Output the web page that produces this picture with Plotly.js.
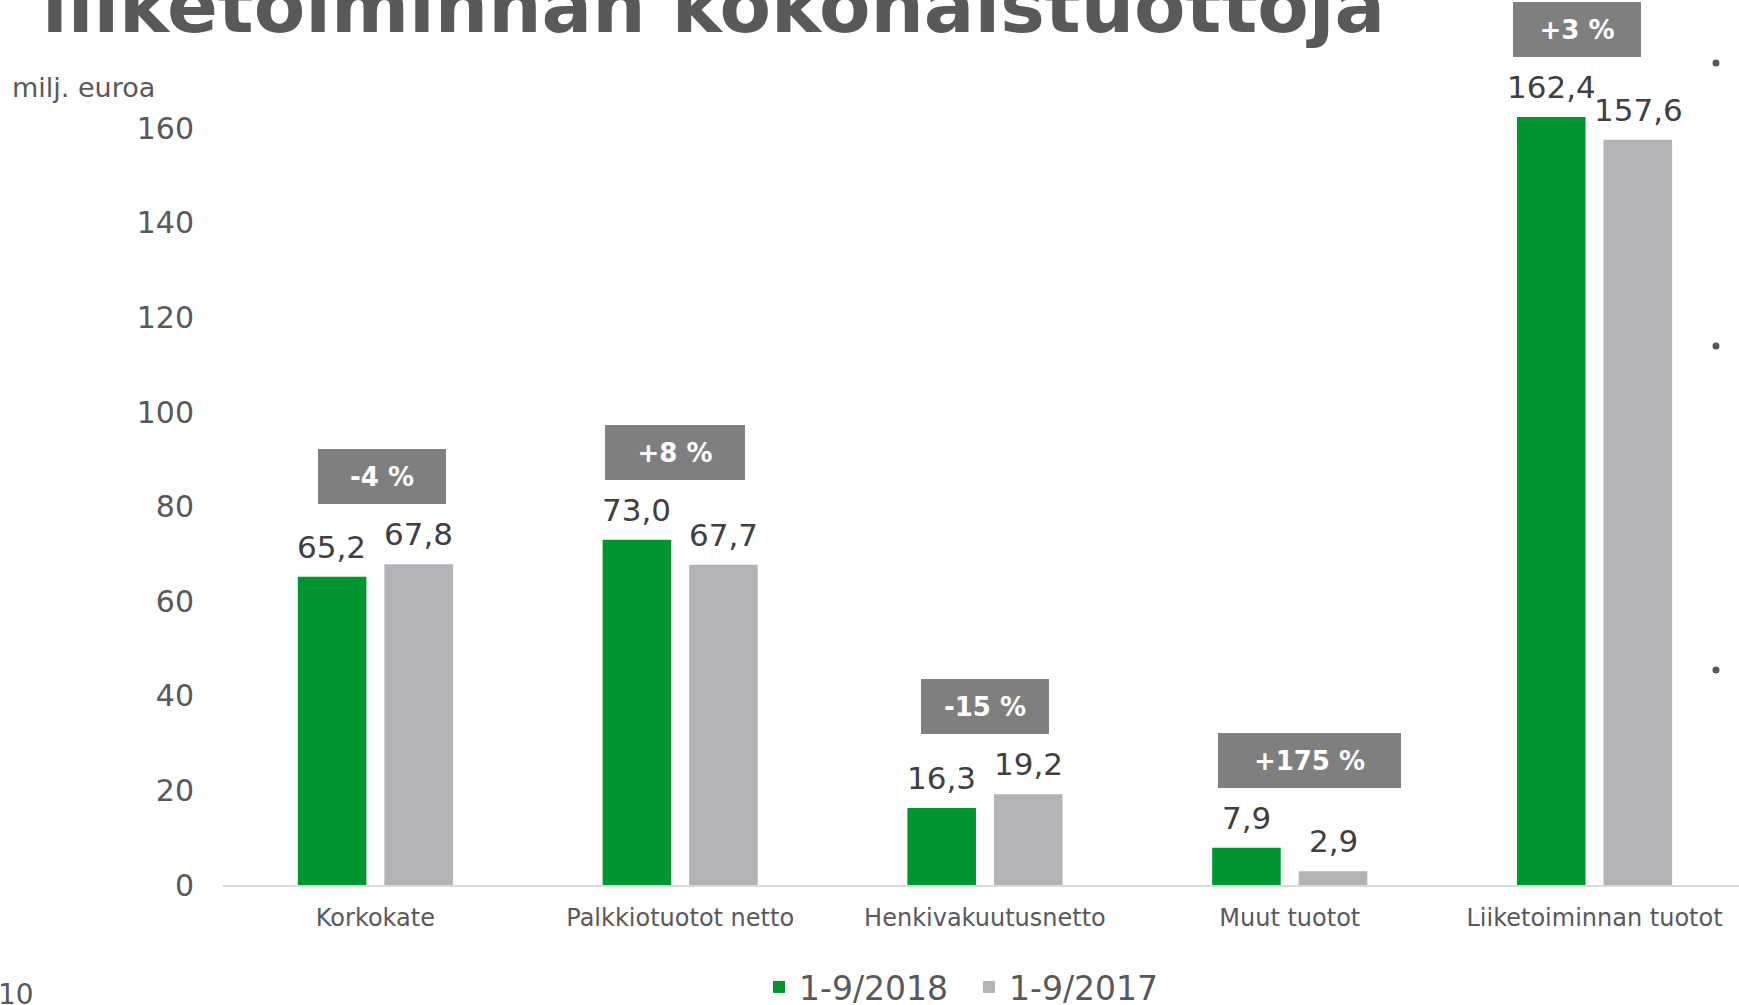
<!DOCTYPE html>
<html>
<head>
<meta charset="utf-8">
<script src="https://cdn.plot.ly/plotly-3.0.1.min.js"></script>
<style>
html,body{margin:0;padding:0;background:#fff;overflow:hidden;}
#chart{width:1739px;height:1005px;}
</style>
</head>
<body>
<div id="chart"></div>
<script>
// ---- data ----
const categories = ["Korkokate", "Palkkiotuotot netto", "Henkivakuutusnetto", "Muut tuotot", "Liiketoiminnan tuotot"];
const series2018 = [65.2, 73.0, 16.3, 7.9, 162.4];
const series2017 = [67.8, 67.7, 19.2, 2.9, 157.6];
const changeLabels = ["-4 %", "+8 %", "-15 %", "+175 %", "+3 %"];
const seriesNames = ["1-9/2018", "1-9/2017"];
const yTicks = [0, 20, 40, 60, 80, 100, 120, 140, 160];

// ---- styles ----
const FONT = "DejaVu Sans, Verdana, sans-serif";
const GREEN = "#009530";
const GREY = "#b1b3b6";
const TXT = "#595959";
const boxWidths = [128, 140, 128, 183, 128];
const boxShifts = [7, -5, 0, 20, -18];

const fmt = v => v.toFixed(1).replace(".", ",");

const traces = [
  {type: "bar", x: categories, y: series2018, name: seriesNames[0],
   marker: {color: GREEN}, hoverinfo: "skip"},
  {type: "bar", x: categories, y: series2017, name: seriesNames[1],
   marker: {color: GREY}, hoverinfo: "skip"}
];

const annotations = [];
categories.forEach((c, i) => {
  annotations.push({x: c, y: series2018[i], xref: "x", yref: "y", text: fmt(series2018[i]),
    showarrow: false, xshift: -43.5, yanchor: "bottom", yshift: 10,
    font: {family: FONT, size: 31, color: "#404040"}});
  annotations.push({x: c, y: series2017[i], xref: "x", yref: "y", text: fmt(series2017[i]),
    showarrow: false, xshift: 43.5, yanchor: "bottom", yshift: 10,
    font: {family: FONT, size: 31, color: "#404040"}});
  const top = Math.max(series2018[i], series2017[i]);
  annotations.push({x: c, y: top, xref: "x", yref: "y", text: "<b>" + changeLabels[i] + "</b>",
    showarrow: false, xshift: boxShifts[i], yanchor: "bottom", yshift: 60,
    width: boxWidths[i], height: 55, bgcolor: "#7f7f7f", borderpad: 0, borderwidth: 0,
    font: {family: FONT, size: 26, color: "#ffffff"}});
});
annotations.push({xref: "paper", yref: "paper", x: -0.1405, y: 0.9925, xanchor: "left", yanchor: "middle",
  text: "milj. euroa", showarrow: false, font: {family: FONT, size: 27, color: TXT}});
annotations.push({xref: "paper", yref: "paper", x: -0.1497, y: -0.1368, xanchor: "left", yanchor: "middle",
  text: "10", showarrow: false, font: {family: FONT, size: 28, color: TXT}});

const dotY = [1.0224, 0.6704, 0.2674];
const shapes = dotY.map(y => ({type: "circle", xref: "paper", yref: "paper",
  xsizemode: "pixel", ysizemode: "pixel", xanchor: 0.9848, yanchor: y,
  x0: -3.5, x1: 3.5, y0: -3.5, y1: 3.5, fillcolor: TXT, line: {width: 0}}));

const layout = {
  width: 1739, height: 1005,
  margin: {l: 223, r: 0, t: 81, b: 120, pad: 0, autoexpand: false},
  paper_bgcolor: "#fff", plot_bgcolor: "#fff",
  font: {family: FONT, color: TXT},
  title: {text: "<b>liiketoiminnan kokonaistuottoja</b>", x: 42 / 1739, xanchor: "left",
    xref: "container", yref: "container", y: 0.9945, yanchor: "middle",
    font: {family: FONT, size: 75, color: "#595959"}},
  barmode: "group", bargap: 0.432, bargroupgap: 0.208,
  xaxis: {range: [-0.5, 4.474], showline: true, linecolor: "#d9d9d9", linewidth: 2,
    ticks: "", showgrid: false, zeroline: false, fixedrange: true,
    tickfont: {family: FONT, size: 24, color: TXT}, ticklabelstandoff: 10},
  yaxis: {range: [0, 170], tickvals: yTicks, ticktext: yTicks.map(String), showgrid: false, zeroline: false,
    showline: false, ticks: "", fixedrange: true, ticklabelstandoff: 28,
    tickfont: {family: FONT, size: 30, color: TXT}},
  legend: {orientation: "h", x: 0.4921, xanchor: "center", y: -0.092, yanchor: "top",
    font: {family: FONT, size: 33, color: TXT}, entrywidth: 165, traceorder: "normal"},
  annotations: annotations,
  shapes: shapes,
  showlegend: true
};

Plotly.newPlot("chart", traces, layout, {displayModeBar: false, staticPlot: true});
</script>
</body>
</html>
